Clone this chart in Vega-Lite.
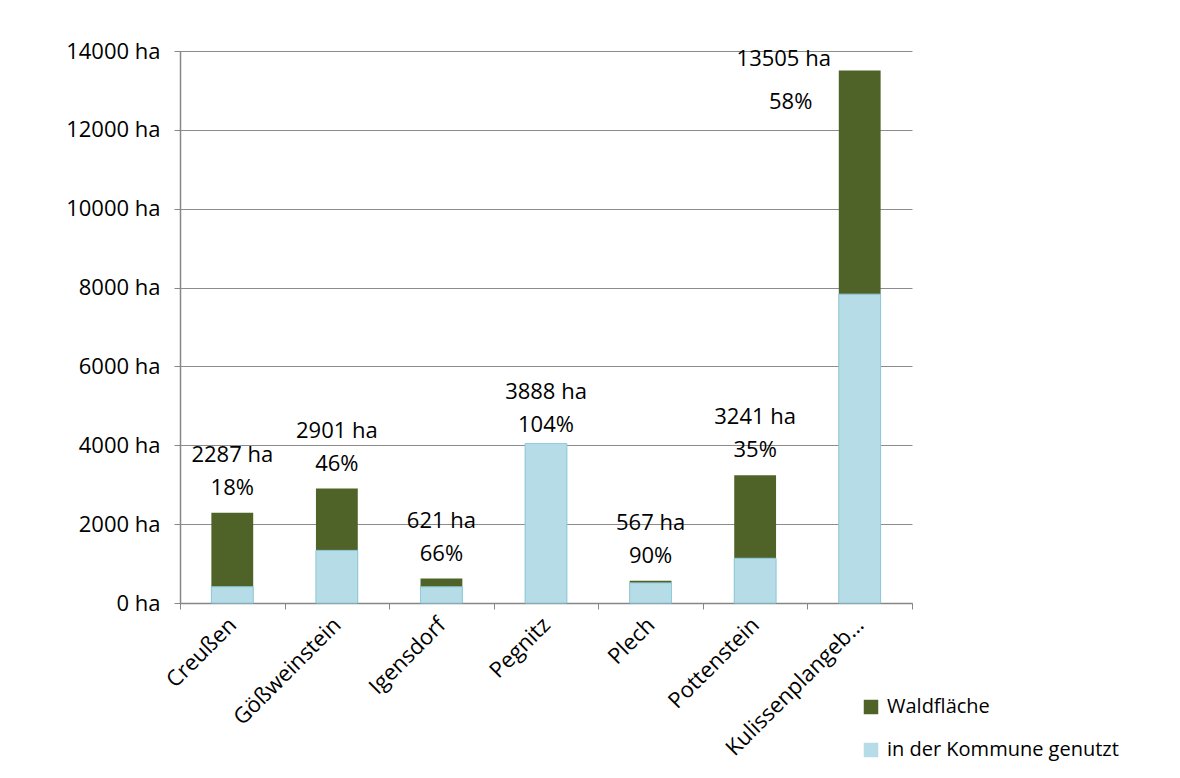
{
  "$schema": "https://vega.github.io/schema/vega-lite/v6.json",
  "width": 732,
  "height": 552,
  "autosize": {"type": "none"},
  "padding": {"left": 180, "top": 51, "right": 268, "bottom": 175},
  "background": "white",
  "config": {
    "font": "Open Sans",
    "view": {"stroke": null},
    "axis": {"labelFont": "Open Sans", "labelColor": "#000000", "titleFont": "Open Sans"},
    "legend": {"labelFont": "Open Sans"},
    "text": {"font": "Open Sans"}
  },
  "data": {
    "values": [
      {"gemeinde": "Creußen", "total": 2287, "used": 412, "pct": 18},
      {"gemeinde": "Gößweinstein", "total": 2901, "used": 1334, "pct": 46},
      {"gemeinde": "Igensdorf", "total": 621, "used": 410, "pct": 66},
      {"gemeinde": "Pegnitz", "total": 3888, "used": 4044, "pct": 104},
      {"gemeinde": "Plech", "total": 567, "used": 510, "pct": 90},
      {"gemeinde": "Pottenstein", "total": 3241, "used": 1134, "pct": 35},
      {"gemeinde": "Kulissenplangebiet", "total": 13505, "used": 7833, "pct": 58}
    ]
  },
  "transform": [
    {"calculate": "datum.total + ' ha'", "as": "ha_label"},
    {"calculate": "datum.pct + '%'", "as": "pct_label"}
  ],
  "encoding": {
    "x": {
      "field": "gemeinde",
      "type": "nominal",
      "sort": null,
      "title": null,
      "scale": {"paddingInner": 0, "paddingOuter": 0},
      "axis": {
        "labelAngle": -45,
        "labelAlign": "right",
        "labelBaseline": "middle",
        "labelFontSize": 22,
        "labelPadding": 12,
        "labelLimit": 400,
        "labelExpr": "length(datum.label) > 15 ? substring(datum.label, 0, 15) + '…' : datum.label",
        "tickBand": "extent",
        "tickColor": "#868686",
        "tickSize": 6,
        "domainColor": "#868686",
        "domainWidth": 1.5,
        "grid": false
      }
    }
  },
  "layer": [
    {
      "mark": {"type": "bar", "width": {"band": 0.4}},
      "encoding": {
        "y": {
          "field": "total",
          "type": "quantitative",
          "title": null,
          "scale": {"domain": [0, 14000]},
          "axis": {
            "values": [0, 2000, 4000, 6000, 8000, 10000, 12000, 14000],
            "labelExpr": "datum.value + ' ha'",
            "labelFontSize": 22,
            "labelPadding": 14,
            "tickColor": "#868686",
            "tickSize": 6,
            "domainColor": "#868686",
            "domainWidth": 1.5,
            "gridColor": "#8c8c8c",
            "gridWidth": 1.2
          }
        },
        "color": {
          "datum": "Waldfläche",
          "type": "nominal",
          "scale": {
            "domain": ["Waldfläche", "in der Kommune genutzt"],
            "range": ["#4f6228", "#b6dce7"]
          },
          "legend": {
            "title": null,
            "orient": "none",
            "legendX": 681,
            "legendY": 646,
            "symbolType": "square",
            "symbolSize": 210,
            "symbolStrokeWidth": 0,
            "labelFontSize": 20,
            "labelLimit": 400,
            "labelOffset": 6,
            "rowPadding": 23
          }
        }
      }
    },
    {
      "mark": {"type": "bar", "width": {"band": 0.4}, "stroke": "#8fcbdb", "strokeWidth": 1},
      "encoding": {
        "y": {"field": "used", "type": "quantitative"},
        "color": {"datum": "in der Kommune genutzt", "type": "nominal"}
      }
    },
    {
      "transform": [{"filter": "datum.gemeinde !== 'Kulissenplangebiet'"}],
      "mark": {"type": "text", "fontSize": 22, "dy": -25, "color": "#000000"},
      "encoding": {
        "y": {"field": "total", "type": "quantitative"},
        "text": {"field": "pct_label", "type": "nominal"}
      }
    },
    {
      "transform": [{"filter": "datum.gemeinde !== 'Kulissenplangebiet'"}],
      "mark": {"type": "text", "fontSize": 22, "dy": -58, "color": "#000000"},
      "encoding": {
        "y": {"field": "total", "type": "quantitative"},
        "text": {"field": "ha_label", "type": "nominal"}
      }
    },
    {
      "transform": [{"filter": "datum.gemeinde === 'Kulissenplangebiet'"}],
      "mark": {"type": "text", "fontSize": 22, "dx": -69, "dy": 31, "color": "#000000"},
      "encoding": {
        "y": {"field": "total", "type": "quantitative"},
        "text": {"field": "pct_label", "type": "nominal"}
      }
    },
    {
      "transform": [{"filter": "datum.gemeinde === 'Kulissenplangebiet'"}],
      "mark": {"type": "text", "fontSize": 22, "dx": -76, "dy": -12, "color": "#000000"},
      "encoding": {
        "y": {"field": "total", "type": "quantitative"},
        "text": {"field": "ha_label", "type": "nominal"}
      }
    }
  ]
}
